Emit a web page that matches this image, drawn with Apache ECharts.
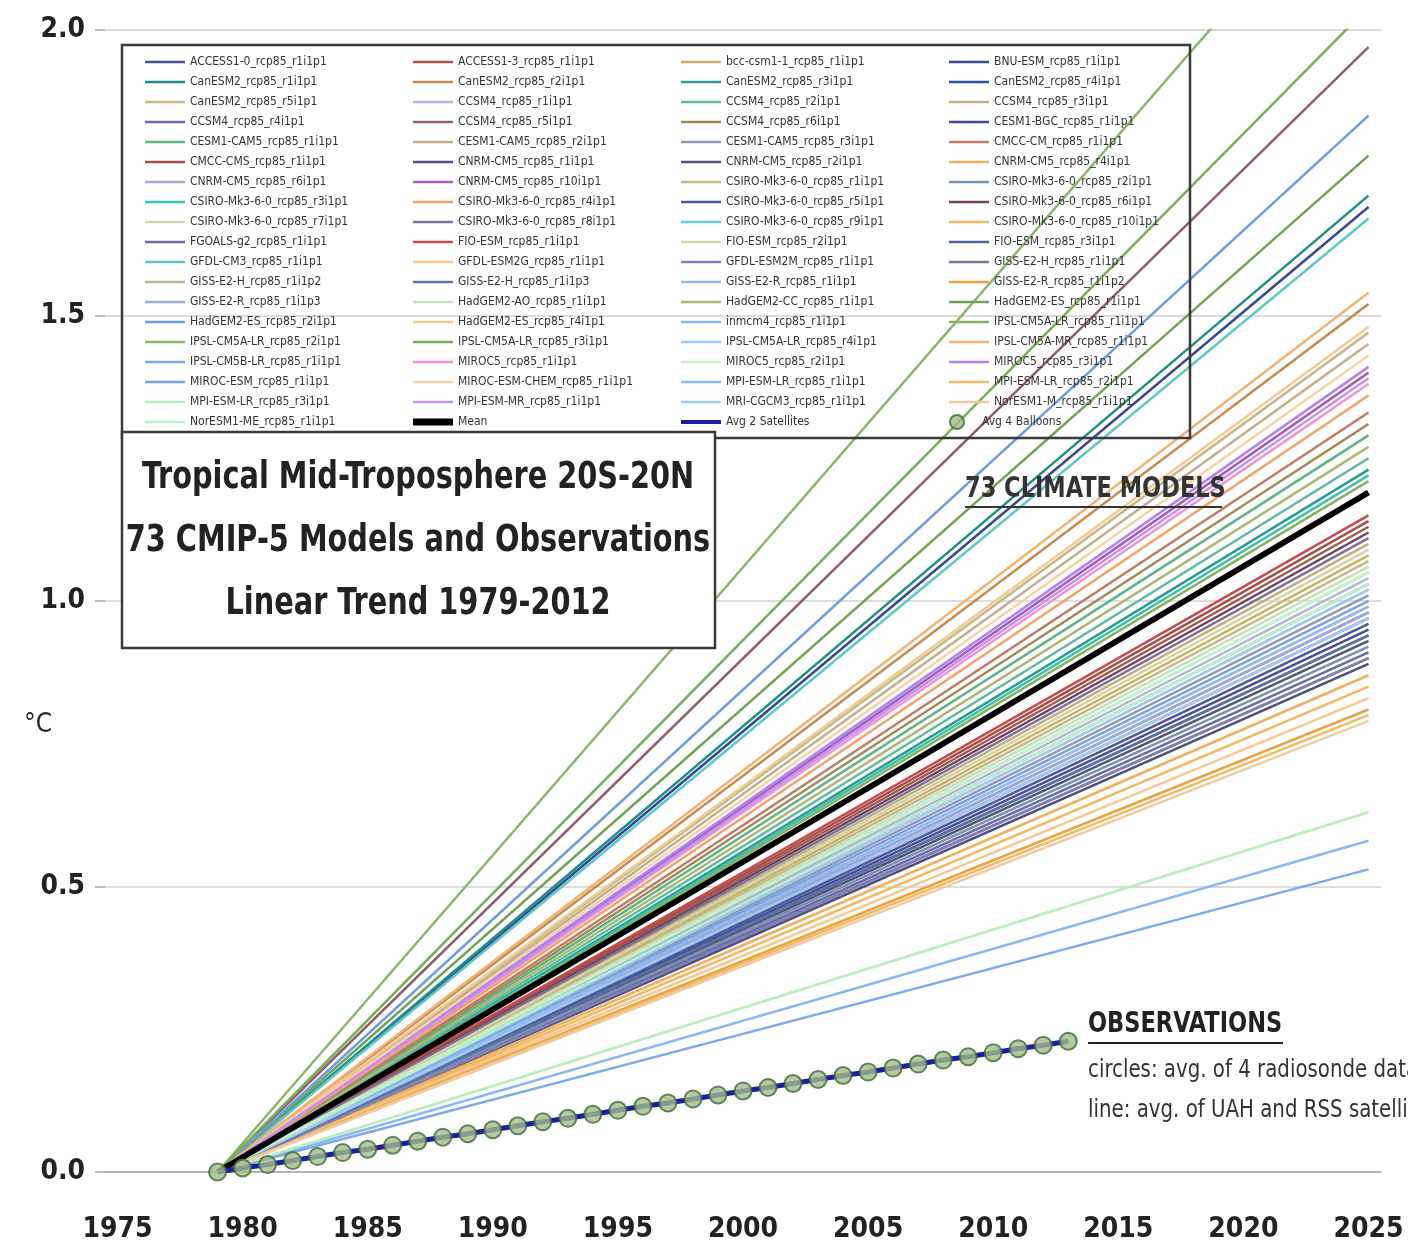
<!DOCTYPE html>
<html>
<head>
<meta charset="utf-8">
<script src="https://cdn.jsdelivr.net/npm/echarts@6/dist/echarts.min.js"></script>
<style>
html, body { margin: 0; padding: 0; background: #fff; }
#chart { width: 1408px; height: 1251px; }
</style>
</head>
<body>
<div id="chart"></div>
<script>
var years = ['1975','1976','1977','1978','1979','1980','1981','1982','1983','1984',
  '1985','1986','1987','1988','1989','1990','1991','1992','1993','1994',
  '1995','1996','1997','1998','1999','2000','2001','2002','2003','2004',
  '2005','2006','2007','2008','2009','2010','2011','2012','2013','2014',
  '2015','2016','2017','2018','2019','2020','2021','2022','2023','2024','2025'];

var trendStart = '1979';
var trendEnd = '2025';

var modelNames = [
  'ACCESS1-0_rcp85_r1i1p1','ACCESS1-3_rcp85_r1i1p1','bcc-csm1-1_rcp85_r1i1p1','BNU-ESM_rcp85_r1i1p1',
  'CanESM2_rcp85_r1i1p1','CanESM2_rcp85_r2i1p1','CanESM2_rcp85_r3i1p1','CanESM2_rcp85_r4i1p1',
  'CanESM2_rcp85_r5i1p1','CCSM4_rcp85_r1i1p1','CCSM4_rcp85_r2i1p1','CCSM4_rcp85_r3i1p1',
  'CCSM4_rcp85_r4i1p1','CCSM4_rcp85_r5i1p1','CCSM4_rcp85_r6i1p1','CESM1-BGC_rcp85_r1i1p1',
  'CESM1-CAM5_rcp85_r1i1p1','CESM1-CAM5_rcp85_r2i1p1','CESM1-CAM5_rcp85_r3i1p1','CMCC-CM_rcp85_r1i1p1',
  'CMCC-CMS_rcp85_r1i1p1','CNRM-CM5_rcp85_r1i1p1','CNRM-CM5_rcp85_r2i1p1','CNRM-CM5_rcp85_r4i1p1',
  'CNRM-CM5_rcp85_r6i1p1','CNRM-CM5_rcp85_r10i1p1','CSIRO-Mk3-6-0_rcp85_r1i1p1','CSIRO-Mk3-6-0_rcp85_r2i1p1',
  'CSIRO-Mk3-6-0_rcp85_r3i1p1','CSIRO-Mk3-6-0_rcp85_r4i1p1','CSIRO-Mk3-6-0_rcp85_r5i1p1','CSIRO-Mk3-6-0_rcp85_r6i1p1',
  'CSIRO-Mk3-6-0_rcp85_r7i1p1','CSIRO-Mk3-6-0_rcp85_r8i1p1','CSIRO-Mk3-6-0_rcp85_r9i1p1','CSIRO-Mk3-6-0_rcp85_r10i1p1',
  'FGOALS-g2_rcp85_r1i1p1','FIO-ESM_rcp85_r1i1p1','FIO-ESM_rcp85_r2i1p1','FIO-ESM_rcp85_r3i1p1',
  'GFDL-CM3_rcp85_r1i1p1','GFDL-ESM2G_rcp85_r1i1p1','GFDL-ESM2M_rcp85_r1i1p1','GISS-E2-H_rcp85_r1i1p1',
  'GISS-E2-H_rcp85_r1i1p2','GISS-E2-H_rcp85_r1i1p3','GISS-E2-R_rcp85_r1i1p1','GISS-E2-R_rcp85_r1i1p2',
  'GISS-E2-R_rcp85_r1i1p3','HadGEM2-AO_rcp85_r1i1p1','HadGEM2-CC_rcp85_r1i1p1','HadGEM2-ES_rcp85_r1i1p1',
  'HadGEM2-ES_rcp85_r2i1p1','HadGEM2-ES_rcp85_r4i1p1','inmcm4_rcp85_r1i1p1','IPSL-CM5A-LR_rcp85_r1i1p1',
  'IPSL-CM5A-LR_rcp85_r2i1p1','IPSL-CM5A-LR_rcp85_r3i1p1','IPSL-CM5A-LR_rcp85_r4i1p1','IPSL-CM5A-MR_rcp85_r1i1p1',
  'IPSL-CM5B-LR_rcp85_r1i1p1','MIROC5_rcp85_r1i1p1','MIROC5_rcp85_r2i1p1','MIROC5_rcp85_r3i1p1',
  'MIROC-ESM_rcp85_r1i1p1','MIROC-ESM-CHEM_rcp85_r1i1p1','MPI-ESM-LR_rcp85_r1i1p1','MPI-ESM-LR_rcp85_r2i1p1',
  'MPI-ESM-LR_rcp85_r3i1p1','MPI-ESM-MR_rcp85_r1i1p1','MRI-CGCM3_rcp85_r1i1p1','NorESM1-M_rcp85_r1i1p1',
  'NorESM1-ME_rcp85_r1i1p1'
];

// trend value (deg C) reached at 2025
var modelEnd2025 = [
  0.95, 1.13, 1.08, 1.69,
  1.71, 1.52, 1.23, 0.94,
  1.47, 1.04, 1.25, 1.45,
  0.91, 1.97, 1.31, 0.90,
  1.29, 1.10, 1.01, 1.33,
  1.14, 0.89, 0.93, 0.87,
  0.99, 1.40, 1.07, 0.92,
  1.22, 1.36, 0.96, 1.12,
  1.06, 1.03, 1.05, 0.85,
  0.98, 1.15, 1.09, 0.97,
  1.67, 0.83, 0.90, 1.11,
  1.02, 0.94, 1.00, 0.81,
  0.98, 1.06, 1.27, 1.78,
  1.85, 1.48, 0.58, 1.21,
  2.32, 2.04, 1.02, 1.54,
  0.53, 1.38, 1.05, 1.41,
  1.00, 1.43, 0.99, 0.80,
  0.63, 1.39, 0.97, 0.79,
  1.03
];

var meanName = 'Mean';
var meanEnd2025 = 1.19;

var obsYears = ['1979','1980','1981','1982','1983','1984','1985','1986','1987','1988',
  '1989','1990','1991','1992','1993','1994','1995','1996','1997','1998',
  '1999','2000','2001','2002','2003','2004','2005','2006','2007','2008',
  '2009','2010','2011','2012','2013'];
var satelliteName = 'Avg 2 Satellites';
var satellites = [0.000, 0.007, 0.013, 0.020, 0.027, 0.034, 0.040, 0.047, 0.054, 0.061,
  0.067, 0.074, 0.081, 0.088, 0.094, 0.101, 0.108, 0.115, 0.121, 0.128,
  0.135, 0.142, 0.148, 0.155, 0.162, 0.169, 0.175, 0.182, 0.189, 0.196,
  0.202, 0.209, 0.216, 0.222, 0.229];
var balloonName = 'Avg 4 Balloons';
var balloons = [0.000, 0.007, 0.013, 0.020, 0.027, 0.034, 0.040, 0.047, 0.054, 0.061,
  0.067, 0.074, 0.081, 0.088, 0.094, 0.101, 0.108, 0.115, 0.121, 0.128,
  0.135, 0.142, 0.148, 0.155, 0.162, 0.169, 0.175, 0.182, 0.189, 0.196,
  0.202, 0.209, 0.216, 0.222, 0.229];

var modelColors = [
  '#4b4f9a','#a3594a','#c9b265','#384894',
  '#1e8f86','#c98a4f','#2a9d8f','#2f4fa0',
  '#c8b88a','#b0b8d4','#5fb8a0','#c2ae8c',
  '#6b6bab','#8e5f72','#a38a55','#414a92',
  '#5cb487','#c0b07f','#9098b8','#c27a62',
  '#a2504c','#4f4f80','#55557a','#f0b060',
  '#a9a9c9','#a65fb5','#c2ba8a','#7a92b2',
  '#3fc0b0','#f2a263','#4a5aa2','#704262',
  '#c9d9b2','#8070a2','#62d0e0','#f2b862',
  '#6a6a9c','#c84a4a','#d2d2aa','#5062a2',
  '#5ec8c8','#f8c892','#8282b2','#807092',
  '#b8b892','#5a72a2','#9abae2','#eaa242',
  '#9caae2','#c9e1c1','#a9b972','#72a252',
  '#6c9ce2','#f2ca92','#8ab8f2','#82b262',
  '#8cb46c','#7aae5a','#9ecaf2','#f2b272',
  '#7caaea','#f292d2','#caf2c2','#b282f2',
  '#7aa2e2','#f8d2a2','#92baf2','#f2ba62',
  '#b8ecb8','#c292f2','#a2caf2','#f2caa2',
  '#baf2ca'
];

var FONT = "'DejaVu Sans Condensed', 'Liberation Sans Narrow', sans-serif";

function toPairs(xs, ys) {
  var out = [];
  for (var i = 0; i < xs.length; i++) out.push([xs[i], ys[i]]);
  return out;
}

var series = [];
var legendData = [];
for (var i = 0; i < modelNames.length; i++) {
  series.push({
    name: modelNames[i],
    type: 'line',
    symbol: 'none',
    silent: true,
    data: [[trendStart, 0], [trendEnd, modelEnd2025[i]]],
    lineStyle: { width: 2.5, color: modelColors[i] },
    itemStyle: { color: modelColors[i] },
    z: 2
  });
  legendData.push({ name: modelNames[i], icon: 'path://M0,0H40V2.5H0Z' });
}
series.push({
  name: meanName,
  type: 'line',
  symbol: 'none',
  silent: true,
  data: [[trendStart, 0], [trendEnd, meanEnd2025]],
  lineStyle: { width: 6, color: '#000' },
  itemStyle: { color: '#000' },
  z: 3
});
legendData.push({ name: meanName, icon: 'path://M0,0H40V7H0Z' });
series.push({
  name: satelliteName,
  type: 'line',
  symbol: 'none',
  silent: true,
  data: toPairs(obsYears, satellites),
  lineStyle: { width: 5, color: '#1c1ca8' },
  itemStyle: { color: '#1c1ca8' },
  z: 4
});
legendData.push({ name: satelliteName, icon: 'path://M0,0H40V4H0Z' });
series.push({
  name: balloonName,
  type: 'scatter',
  symbol: 'circle',
  symbolSize: 17,
  silent: true,
  data: toPairs(obsYears, balloons),
  itemStyle: { color: '#a3bd86', borderColor: '#3d6b3d', borderWidth: 2 },
  z: 5
});
legendData.push({ name: balloonName, icon: 'path://M0,5A5,5,0,1,1,10,5A5,5,0,1,1,0,5Z' });

var chart = echarts.init(document.getElementById('chart'));
chart.setOption({
  animation: false,
  backgroundColor: '#fff',
  grid: { left: 105, right: 27, top: 30, bottom: 79, containLabel: false },
  legend: {
    data: legendData,
    left: 145,
    top: 55,
    width: 1070,
    orient: 'horizontal',
    itemWidth: 40,
    itemHeight: 14,
    itemGap: 6,
    selectedMode: false,
    padding: 0,
    textStyle: {
      fontFamily: FONT,
      fontSize: 12,
      color: '#333',
      width: 217,
      overflow: 'truncate',
      lineHeight: 14
    }
  },
  xAxis: {
    type: 'category',
    data: years,
    boundaryGap: true,
    axisLine: { lineStyle: { color: '#a6a6a6', width: 1.5 } },
    axisTick: { interval: 0, length: 15, lineStyle: { color: '#a6a6a6', width: 1.5 } },
    axisLabel: {
      interval: 4,
      margin: 44,
      fontFamily: FONT,
      fontWeight: 'bold',
      fontSize: 28,
      color: '#222'
    },
    splitLine: { show: false }
  },
  yAxis: {
    type: 'value',
    min: 0,
    max: 2,
    interval: 0.5,
    axisLine: { show: false },
    axisTick: { show: true, length: 10, lineStyle: { color: '#a6a6a6', width: 1.5 } },
    axisLabel: {
      margin: 20,
      fontFamily: FONT,
      fontWeight: 'bold',
      fontSize: 28,
      color: '#222',
      formatter: function (v) { return v.toFixed(1); }
    },
    splitLine: { lineStyle: { color: '#d0d0d0', width: 1.5 } }
  },
  graphic: [
    {
      type: 'text',
      x: 38, y: 725,
      style: { text: '°C', fill: '#222', font: '26px ' + FONT, align: 'center', verticalAlign: 'middle' },
      z: 60
    },
    {
      type: 'rect',
      shape: { x: 122, y: 45, width: 1068, height: 393 },
      style: { fill: 'none', stroke: '#3a3a3a', lineWidth: 2.5 },
      z: 50,
      silent: true
    },
    {
      type: 'group',
      z: 100,
      children: [
        {
          type: 'rect',
          shape: { x: 122, y: 432, width: 593, height: 216 },
          style: { fill: '#fff', stroke: '#3a3a3a', lineWidth: 2.5 },
          z: 100
        },
        {
          type: 'text',
          x: 418, y: 478, scaleY: 1.15,
          style: { text: 'Tropical Mid-Troposphere 20S-20N', fill: '#222', font: 'bold 32px ' + FONT, align: 'center', verticalAlign: 'middle' },
          z: 101
        },
        {
          type: 'text',
          x: 418, y: 541, scaleY: 1.15,
          style: { text: '73 CMIP-5 Models and Observations', fill: '#222', font: 'bold 32px ' + FONT, align: 'center', verticalAlign: 'middle' },
          z: 101
        },
        {
          type: 'text',
          x: 418, y: 604, scaleY: 1.15,
          style: { text: 'Linear Trend 1979-2012', fill: '#222', font: 'bold 32px ' + FONT, align: 'center', verticalAlign: 'middle' },
          z: 101
        }
      ]
    },
    {
      type: 'text',
      x: 965, y: 490, scaleY: 1.15,
      style: { text: '73 CLIMATE MODELS', fill: '#333', font: 'bold 25px ' + FONT, align: 'left', verticalAlign: 'middle' },
      z: 60
    },
    {
      type: 'line',
      shape: { x1: 965, y1: 507, x2: 1222, y2: 507 },
      style: { stroke: '#333', lineWidth: 2 },
      z: 60
    },
    {
      type: 'text',
      x: 1088, y: 1025, scaleY: 1.15,
      style: { text: 'OBSERVATIONS', fill: '#222', font: 'bold 25px ' + FONT, align: 'left', verticalAlign: 'middle' },
      z: 60
    },
    {
      type: 'line',
      shape: { x1: 1088, y1: 1043, x2: 1283, y2: 1043 },
      style: { stroke: '#222', lineWidth: 2 },
      z: 60
    },
    {
      type: 'text',
      x: 1088, y: 1071, scaleY: 1.1,
      style: { text: 'circles: avg. of 4 radiosonde datasets', fill: '#333', font: '22px ' + FONT, align: 'left', verticalAlign: 'middle' },
      z: 60
    },
    {
      type: 'text',
      x: 1088, y: 1111, scaleY: 1.1,
      style: { text: 'line: avg. of UAH and RSS satellites', fill: '#333', font: '22px ' + FONT, align: 'left', verticalAlign: 'middle' },
      z: 60
    }
  ],
  series: series
});
</script>
</body>
</html>
